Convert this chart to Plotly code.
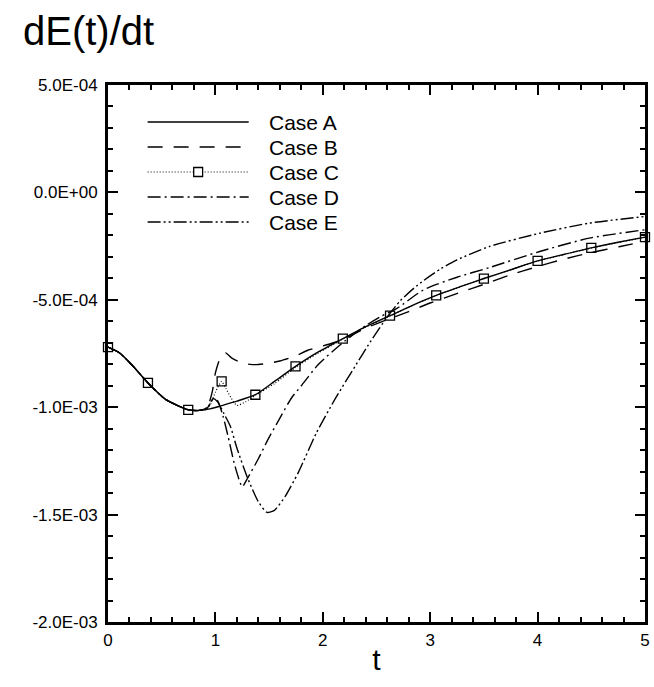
import plotly.graph_objects as go

SCALE = 1e-4  # values below are in units of 1E-04

# Case A (solid)
t_A = [0, 0.11, 0.235, 0.372, 0.54, 0.747, 0.85, 0.95, 1.058, 1.2, 1.372, 1.55, 1.746, 1.95,
       2.186, 2.4, 2.626, 2.85, 3.056, 3.28, 3.5, 3.75, 4.0, 4.25, 4.5, 4.75, 5.0]
v_A = [-7.2, -7.48, -8.1, -8.87, -9.65, -10.12, -10.15, -10.08, -9.93, -9.72, -9.42, -8.8, -8.10, -7.45,
       -6.81, -6.25, -5.74, -5.22, -4.79, -4.39, -4.01, -3.6, -3.19, -2.88, -2.58, -2.32, -2.08]

# Case B (dashed)
t_B = [0, 0.11, 0.235, 0.372, 0.54, 0.747, 0.85, 0.92, 0.97, 1.0, 1.05, 1.095, 1.15, 1.25, 1.37,
       1.5, 1.6, 1.74, 1.86, 2.0, 2.1, 2.2, 2.4, 2.6, 2.8, 3.0, 3.27, 3.5, 3.73, 4.0, 4.25, 4.5,
       4.77, 5.0]
v_B = [-7.2, -7.48, -8.1, -8.87, -9.65, -10.12, -10.15, -10.05, -9.3, -8.4, -7.65, -7.47, -7.7, -7.95, -8.02,
       -7.95, -7.85, -7.63, -7.35, -7.15, -7.0, -6.82, -6.32, -5.92, -5.55, -5.15, -4.67, -4.28,
       -3.87, -3.45, -3.1, -2.8, -2.52, -2.28]

# Case C (dotted, with square symbols)
t_C = [0, 0.11, 0.235, 0.372, 0.54, 0.747, 0.85, 0.92, 0.96, 1.0, 1.058, 1.1, 1.15, 1.2, 1.28,
       1.372, 1.55, 1.746, 1.95, 2.186, 2.4, 2.626, 2.85, 3.056, 3.28, 3.5, 3.75, 4.0, 4.25,
       4.5, 4.75, 5.0]
v_C = [-7.2, -7.48, -8.1, -8.87, -9.65, -10.12, -10.15, -10.1, -9.8, -9.3, -8.8, -9.15, -9.6, -9.92, -9.75,
       -9.45, -8.9, -8.15, -7.5, -6.83, -6.27, -5.75, -5.23, -4.8, -4.4, -4.02, -3.6, -3.2, -2.89,
       -2.59, -2.33, -2.09]
t_C_sym = [0, 0.372, 0.747, 1.058, 1.372, 1.746, 2.186, 2.626, 3.056, 3.5, 4.0, 4.5, 5.0]
v_C_sym = [-7.2, -8.87, -10.12, -8.8, -9.42, -8.10, -6.81, -5.74, -4.79, -4.01, -3.19, -2.58, -2.08]

# Case D (dash-dot)
t_D = [0, 0.11, 0.235, 0.372, 0.54, 0.747, 0.85, 0.93, 0.98, 1.02, 1.07, 1.12, 1.18, 1.25, 1.3,
       1.4, 1.49, 1.59, 1.71, 1.8, 1.96, 2.2, 2.4, 2.55, 2.69, 2.94, 3.25, 3.55, 4.02, 4.48, 5.0]
v_D = [-7.2, -7.48, -8.1, -8.87, -9.65, -10.12, -10.15, -10.0, -9.6, -9.7, -10.4, -11.4, -12.7, -13.7, -13.3,
       -12.4, -11.5, -10.6, -9.56, -9.0, -8.0, -6.94, -6.2, -5.75, -5.4, -4.53, -3.95, -3.5,
       -2.75, -2.13, -1.74]

# Case E (dash-dot-dot)
t_E = [0, 0.11, 0.235, 0.372, 0.54, 0.747, 0.85, 0.93, 0.98, 1.02, 1.08, 1.14, 1.2, 1.3, 1.4,
       1.48, 1.55, 1.65, 1.77, 1.94, 2.12, 2.3, 2.45, 2.6, 2.72, 2.85, 2.94, 3.1, 3.25, 3.55,
       4.02, 4.48, 5.0]
v_E = [-7.2, -7.48, -8.1, -8.87, -9.65, -10.12, -10.15, -10.0, -9.6, -9.75, -10.3, -10.9, -11.9, -13.3, -14.4,
       -14.9, -14.8, -14.15, -13.06, -11.2, -9.57, -8.1, -6.9, -5.8, -5.05, -4.45, -4.1, -3.55,
       -3.14, -2.52, -1.9, -1.43, -1.12]

x_ticks = [0, 1, 2, 3, 4, 5]
x_tick_text = ["0", "1", "2", "3", "4", "5"]
y_ticks = [5e-4, 0.0, -5e-4, -1e-3, -1.5e-3, -2e-3]
y_tick_text = ["5.0E-04", "0.0E+00", "-5.0E-04", "-1.0E-03", "-1.5E-03", "-2.0E-03"]
case_names = ["Case A", "Case B", "Case C", "Case D", "Case E"]

W, H = 654, 687
ML, MR, MT, MB = 108, 4, 85, 65
FONT = "Liberation Sans, Arial, sans-serif"

dashes = ["solid", "15px,11px", "1px,2px", "13px,4px,2px,4px", "13px,3px,2px,3px,2px,3px"]
widths = [1.4, 1.4, 1.2, 1.4, 1.4]

series = [(t_A, v_A), (t_B, v_B), (t_C, v_C), (t_D, v_D), (t_E, v_E)]

fig = go.Figure()
for (t, v), name, d, w in zip(series, case_names, dashes, widths):
    fig.add_trace(go.Scatter(
        x=t, y=[val * SCALE for val in v], mode="lines", name=name,
        line=dict(color="black", width=w, dash=d, shape="spline", smoothing=0.6),
        showlegend=False,
    ))
fig.add_trace(go.Scatter(
    x=t_C_sym, y=[val * SCALE for val in v_C_sym], mode="markers", name="Case C",
    marker=dict(symbol="square-open", size=9, color="black", line=dict(width=1.3, color="black")),
    showlegend=False, cliponaxis=False,
))

def px2paper_x(px):
    return (px - ML) / (W - ML - MR)

def px2paper_y(py):
    return 1 - (py - MT) / (H - MT - MB)

shapes = []
annotations = []
leg_x0, leg_x1, leg_text_x, leg_y0, leg_dy = 148, 250, 268, 122, 25
for i, name in enumerate(case_names):
    yy = px2paper_y(leg_y0 + i * leg_dy)
    shapes.append(dict(type="line", xref="paper", yref="paper",
                       x0=px2paper_x(leg_x0), x1=px2paper_x(leg_x1), y0=yy, y1=yy,
                       line=dict(color="black", width=widths[i], dash=dashes[i])))
    annotations.append(dict(xref="paper", yref="paper", x=px2paper_x(leg_text_x), y=yy,
                            text=name, showarrow=False, xanchor="left", yanchor="middle",
                            font=dict(family=FONT, size=21, color="black")))
cx, cy, hs = 199, leg_y0 + 2 * leg_dy, 4.5
shapes.append(dict(type="rect", xref="paper", yref="paper",
                   x0=px2paper_x(cx - hs), x1=px2paper_x(cx + hs),
                   y0=px2paper_y(cy + hs), y1=px2paper_y(cy - hs),
                   line=dict(color="black", width=1.3), fillcolor="white"))

annotations.append(dict(xref="paper", yref="paper", x=px2paper_x(20), y=px2paper_y(31),
                        text="dE(t)/dt", showarrow=False, xanchor="left", yanchor="middle",
                        font=dict(family=FONT, size=40, color="black")))

fig.update_layout(
    width=W, height=H,
    margin=dict(l=ML, r=MR, t=MT, b=MB),
    paper_bgcolor="white", plot_bgcolor="white",
    shapes=shapes, annotations=annotations,
    showlegend=False,
    font=dict(family=FONT, color="black"),
)
axis_common = dict(
    showgrid=False, zeroline=False, showline=True, linecolor="black", linewidth=3,
    mirror="allticks", ticks="inside", ticklen=10, tickwidth=2, tickcolor="black",
    tickfont=dict(family=FONT, size=17, color="black"),
)
fig.update_xaxes(
    range=[0, 5], tickmode="array", tickvals=x_ticks, ticktext=x_tick_text,
    minor=dict(tickmode="linear", tick0=0, dtick=0.2, ticks="inside", ticklen=5,
               tickwidth=1.5, tickcolor="black"),
    title=dict(text="t", font=dict(family=FONT, size=30, color="black"), standoff=0),
    ticklabelstandoff=1,
    **axis_common,
)
fig.update_yaxes(
    range=[-2e-3, 5e-4], tickmode="array", tickvals=y_ticks, ticktext=y_tick_text,
    minor=dict(tickmode="linear", tick0=0, dtick=1e-4, ticks="inside", ticklen=5,
               tickwidth=1.5, tickcolor="black"),
    ticklabelstandoff=4,
    **axis_common,
)

fig.write_html("out.html")
